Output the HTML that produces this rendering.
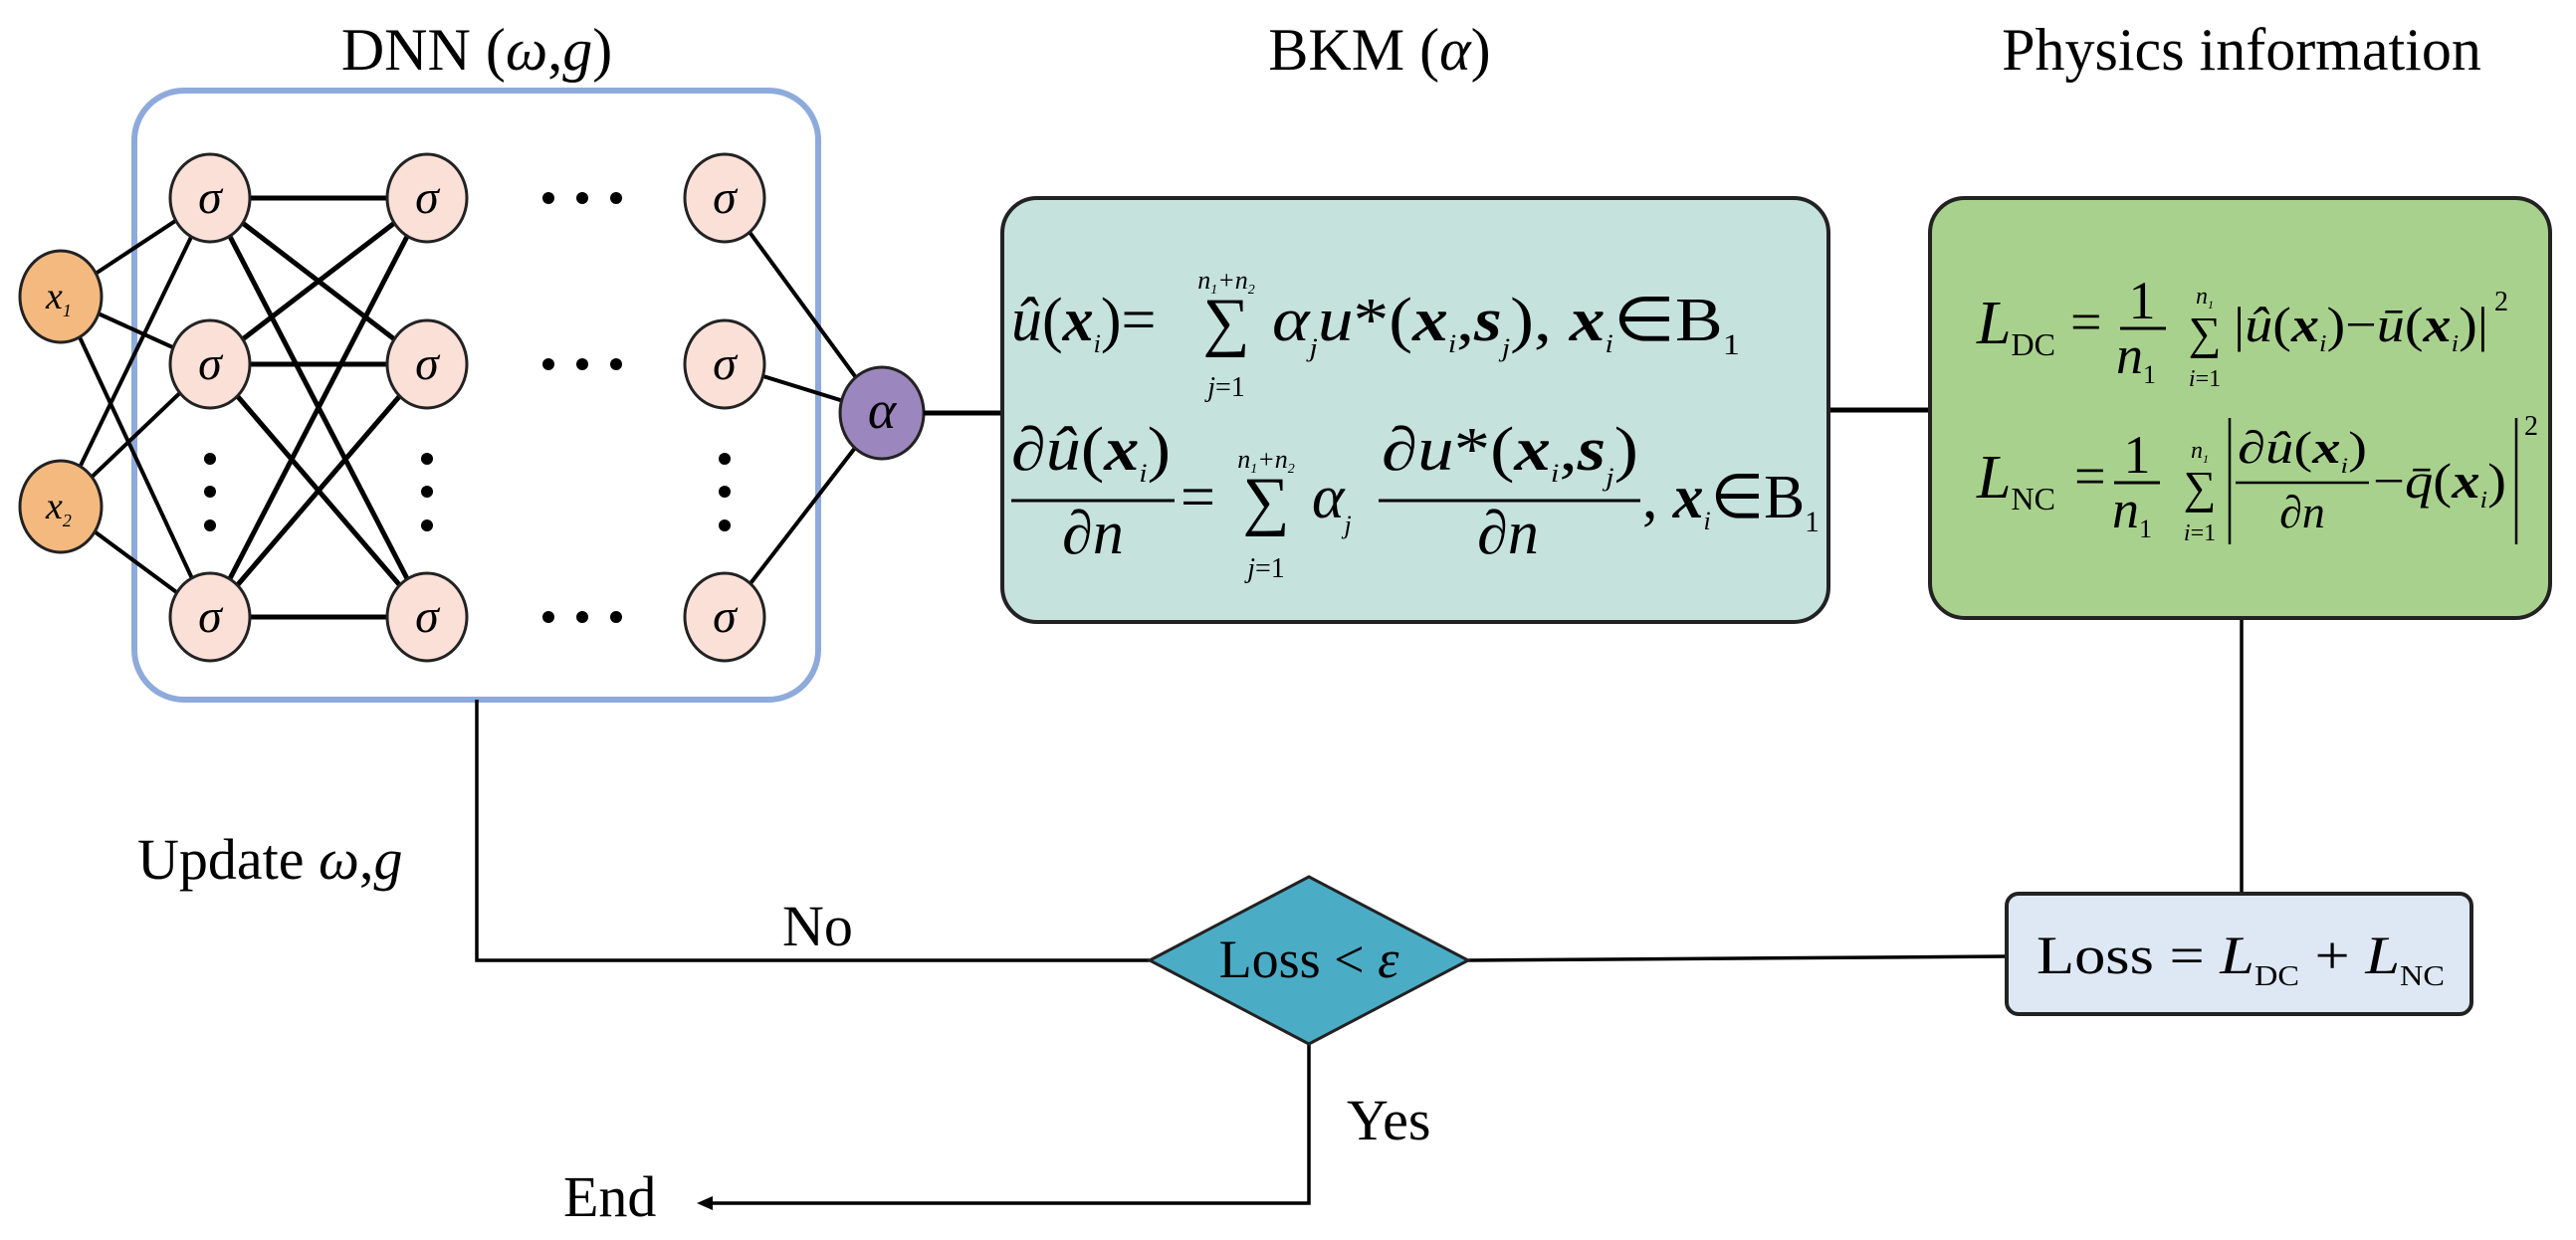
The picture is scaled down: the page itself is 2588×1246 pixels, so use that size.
<!DOCTYPE html>
<html><head><meta charset="utf-8"><style>
html,body{margin:0;padding:0;background:#fff;}
svg{display:block;}
text{font-family:"Liberation Serif",serif;fill:#000;}
</style></head><body>
<svg width="2588" height="1246" viewBox="0 0 2588 1246" xmlns="http://www.w3.org/2000/svg">
<!-- titles -->
<text x="479" y="70" font-size="60" text-anchor="middle">DNN (<tspan font-style="italic">ω</tspan>,<tspan font-style="italic">g</tspan>)</text>
<text x="1386" y="70" font-size="60" text-anchor="middle">BKM (<tspan font-style="italic">α</tspan>)</text>
<text x="2252" y="70" font-size="60" text-anchor="middle">Physics information</text>

<!-- DNN box -->
<rect x="135" y="91" width="687" height="612" rx="50" fill="#fff" stroke="#8eaadb" stroke-width="6"/>

<!-- edges -->
<g stroke="#000" stroke-width="4">
  <line x1="61" y1="298" x2="211" y2="199"/><line x1="61" y1="298" x2="211" y2="366"/><line x1="61" y1="298" x2="211" y2="620"/>
  <line x1="61" y1="509" x2="211" y2="199"/><line x1="61" y1="509" x2="211" y2="366"/><line x1="61" y1="509" x2="211" y2="620"/>
  <line x1="728" y1="199" x2="886" y2="415"/><line x1="728" y1="366" x2="886" y2="415"/><line x1="728" y1="620" x2="886" y2="415"/>
</g>
<g stroke="#000" stroke-width="5">
  <line x1="211" y1="199" x2="429" y2="199"/><line x1="211" y1="199" x2="429" y2="366"/><line x1="211" y1="199" x2="429" y2="620"/>
  <line x1="211" y1="366" x2="429" y2="199"/><line x1="211" y1="366" x2="429" y2="366"/><line x1="211" y1="366" x2="429" y2="620"/>
  <line x1="211" y1="620" x2="429" y2="199"/><line x1="211" y1="620" x2="429" y2="366"/><line x1="211" y1="620" x2="429" y2="620"/>
</g>

<!-- dots -->
<g fill="#000">
  <circle cx="551" cy="199" r="6"/><circle cx="585" cy="199" r="6"/><circle cx="619" cy="199" r="6"/>
  <circle cx="551" cy="366" r="6"/><circle cx="585" cy="366" r="6"/><circle cx="619" cy="366" r="6"/>
  <circle cx="551" cy="620" r="6"/><circle cx="585" cy="620" r="6"/><circle cx="619" cy="620" r="6"/>
  <circle cx="211" cy="461" r="6"/><circle cx="211" cy="494" r="6"/><circle cx="211" cy="528" r="6"/>
  <circle cx="429" cy="461" r="6"/><circle cx="429" cy="494" r="6"/><circle cx="429" cy="528" r="6"/>
  <circle cx="728" cy="461" r="6"/><circle cx="728" cy="494" r="6"/><circle cx="728" cy="528" r="6"/>
</g>

<!-- nodes -->
<g stroke="#222" stroke-width="3" fill="#fbe0d8">
  <ellipse cx="211" cy="199" rx="40" ry="44"/><ellipse cx="211" cy="366" rx="40" ry="44"/><ellipse cx="211" cy="620" rx="40" ry="44"/>
  <ellipse cx="429" cy="199" rx="40" ry="44"/><ellipse cx="429" cy="366" rx="40" ry="44"/><ellipse cx="429" cy="620" rx="40" ry="44"/>
  <ellipse cx="728" cy="199" rx="40" ry="44"/><ellipse cx="728" cy="366" rx="40" ry="44"/><ellipse cx="728" cy="620" rx="40" ry="44"/>
  <ellipse cx="61" cy="298" rx="41" ry="46" fill="#f4b97f"/><ellipse cx="61" cy="509" rx="41" ry="46" fill="#f4b97f"/>
  <ellipse cx="886" cy="415" rx="42" ry="46" fill="#9b86be"/>
</g>
<g font-size="48" font-style="italic" text-anchor="middle">
  <text x="211" y="214">σ</text><text x="211" y="381">σ</text><text x="211" y="635">σ</text>
  <text x="429" y="214">σ</text><text x="429" y="381">σ</text><text x="429" y="635">σ</text>
  <text x="728" y="214">σ</text><text x="728" y="381">σ</text><text x="728" y="635">σ</text>
  <text x="886" y="430" font-size="54">α</text>
</g>
<text x="46" y="310" font-size="38" font-style="italic">x<tspan font-size="18" dy="8">1</tspan></text>
<text x="46" y="521" font-size="38" font-style="italic">x<tspan font-size="18" dy="8">2</tspan></text>

<!-- connectors -->
<g stroke="#000" stroke-width="5" fill="none">
  <line x1="928" y1="415" x2="1007" y2="415"/>
  <line x1="1837" y1="412" x2="1939" y2="412"/>
</g>
<g stroke="#000" stroke-width="3.5" fill="none">
  <line x1="2252" y1="621" x2="2252" y2="898"/>
  <line x1="2016" y1="961" x2="1475" y2="965"/>
  <polyline points="1155,965 479,965 479,703"/>
  <polyline points="1315,1049 1315,1209 712,1209"/>
</g>
<polygon points="700,1209 716,1202 716,1216" fill="#000"/>

<!-- BKM box -->
<rect x="1007" y="199" width="830" height="426" rx="35" fill="#c5e2dd" stroke="#222" stroke-width="4"/>
<text x="1016" y="342" font-size="62"><tspan font-style="italic">û</tspan>(<tspan font-style="italic" font-weight="bold">x</tspan><tspan font-size="26" font-style="italic" dy="12">i</tspan><tspan dy="-12">)=</tspan></text>
<text x="1232" y="345" font-size="66" text-anchor="middle">∑</text>
<text x="1232" y="290" font-size="26" font-style="italic" text-anchor="middle">n<tspan font-size="14" dy="5">1</tspan><tspan dy="-5">+n</tspan><tspan font-size="14" dy="5">2</tspan></text>
<text x="1232" y="398" font-size="28" text-anchor="middle"><tspan font-style="italic">j</tspan>=1</text>
<text x="1278" y="342" font-size="62" textLength="470" lengthAdjust="spacingAndGlyphs"><tspan font-style="italic">α</tspan><tspan font-size="26" font-style="italic" dy="16">j</tspan><tspan font-style="italic" dy="-16">u</tspan>*(<tspan font-style="italic" font-weight="bold">x</tspan><tspan font-size="26" font-style="italic" dy="12">i</tspan><tspan dy="-12">,</tspan><tspan font-style="italic" font-weight="bold">s</tspan><tspan font-size="26" font-style="italic" dy="16">j</tspan><tspan dy="-16">), </tspan><tspan font-style="italic" font-weight="bold">x</tspan><tspan font-size="26" font-style="italic" dy="12">i</tspan><tspan dy="-12">∈B</tspan><tspan font-size="30" dy="14">1</tspan></text>
<text x="1016" y="472" font-size="62" textLength="160" lengthAdjust="spacingAndGlyphs">∂<tspan font-style="italic">û</tspan>(<tspan font-style="italic" font-weight="bold">x</tspan><tspan font-size="26" font-style="italic" dy="12">i</tspan><tspan dy="-12">)</tspan></text>
<line x1="1016" y1="503" x2="1180" y2="503" stroke="#000" stroke-width="3"/>
<text x="1098" y="556" font-size="62" text-anchor="middle">∂<tspan font-style="italic">n</tspan></text>
<text x="1186" y="520" font-size="62">=</text>
<text x="1272" y="525" font-size="66" text-anchor="middle">∑</text>
<text x="1272" y="470" font-size="26" font-style="italic" text-anchor="middle">n<tspan font-size="14" dy="5">1</tspan><tspan dy="-5">+n</tspan><tspan font-size="14" dy="5">2</tspan></text>
<text x="1272" y="580" font-size="28" text-anchor="middle"><tspan font-style="italic">j</tspan>=1</text>
<text x="1318" y="520" font-size="62" font-style="italic">α<tspan font-size="26" dy="16">j</tspan></text>
<text x="1388" y="472" font-size="62" textLength="258" lengthAdjust="spacingAndGlyphs">∂<tspan font-style="italic">u</tspan>*(<tspan font-style="italic" font-weight="bold">x</tspan><tspan font-size="26" font-style="italic" dy="12">i</tspan><tspan dy="-12">,</tspan><tspan font-style="italic" font-weight="bold">s</tspan><tspan font-size="26" font-style="italic" dy="16">j</tspan><tspan dy="-16">)</tspan></text>
<line x1="1385" y1="503" x2="1648" y2="503" stroke="#000" stroke-width="3"/>
<text x="1515" y="556" font-size="62" text-anchor="middle">∂<tspan font-style="italic">n</tspan></text>
<text x="1650" y="520" font-size="62" textLength="178" lengthAdjust="spacingAndGlyphs">, <tspan font-style="italic" font-weight="bold">x</tspan><tspan font-size="26" font-style="italic" dy="12">i</tspan><tspan dy="-12">∈B</tspan><tspan font-size="30" dy="14">1</tspan></text>

<!-- Physics box -->
<rect x="1939" y="199" width="623" height="422" rx="35" fill="#a9d18e" stroke="#222" stroke-width="4"/>
<text x="1986" y="345" font-size="62" font-style="italic">L<tspan font-style="normal" font-size="32" dy="12">DC</tspan></text>
<text x="2080" y="342" font-size="56">=</text>
<text x="2152" y="320" font-size="54" text-anchor="middle">1</text>
<line x1="2130" y1="330" x2="2176" y2="330" stroke="#000" stroke-width="3"/>
<text x="2146" y="375" font-size="54" font-style="italic" text-anchor="middle">n<tspan font-style="normal" font-size="26" dy="10">1</tspan></text>
<text x="2215" y="350" font-size="46" text-anchor="middle">∑</text>
<text x="2215" y="305" font-size="24" font-style="italic" text-anchor="middle">n<tspan font-size="12" dy="5">1</tspan></text>
<text x="2215" y="388" font-size="24" text-anchor="middle"><tspan font-style="italic">i</tspan>=1</text>
<text x="2244" y="343" font-size="50" textLength="256" lengthAdjust="spacingAndGlyphs">|<tspan font-style="italic">û</tspan>(<tspan font-style="italic" font-weight="bold">x</tspan><tspan font-size="24" font-style="italic" dy="10">i</tspan><tspan dy="-10">)−</tspan><tspan font-style="italic">ū</tspan>(<tspan font-style="italic" font-weight="bold">x</tspan><tspan font-size="24" font-style="italic" dy="10">i</tspan><tspan dy="-10">)|</tspan></text>
<text x="2506" y="312" font-size="28">2</text>

<text x="1986" y="500" font-size="62" font-style="italic">L<tspan font-style="normal" font-size="32" dy="12">NC</tspan></text>
<text x="2084" y="497" font-size="56">=</text>
<text x="2147" y="475" font-size="54" text-anchor="middle">1</text>
<line x1="2124" y1="485" x2="2170" y2="485" stroke="#000" stroke-width="3"/>
<text x="2142" y="530" font-size="54" font-style="italic" text-anchor="middle">n<tspan font-style="normal" font-size="26" dy="10">1</tspan></text>
<text x="2210" y="505" font-size="46" text-anchor="middle">∑</text>
<text x="2210" y="460" font-size="24" font-style="italic" text-anchor="middle">n<tspan font-size="12" dy="5">1</tspan></text>
<text x="2210" y="543" font-size="24" text-anchor="middle"><tspan font-style="italic">i</tspan>=1</text>
<line x1="2240" y1="420" x2="2240" y2="547" stroke="#000" stroke-width="2.5"/>
<text x="2248" y="465" font-size="46" textLength="130" lengthAdjust="spacingAndGlyphs">∂<tspan font-style="italic">û</tspan>(<tspan font-style="italic" font-weight="bold">x</tspan><tspan font-size="22" font-style="italic" dy="10">i</tspan><tspan dy="-10">)</tspan></text>
<line x1="2246" y1="485" x2="2380" y2="485" stroke="#000" stroke-width="2.5"/>
<text x="2313" y="530" font-size="46" text-anchor="middle">∂<tspan font-style="italic">n</tspan></text>
<text x="2384" y="500" font-size="50" textLength="134" lengthAdjust="spacingAndGlyphs">−<tspan font-style="italic">q̄</tspan>(<tspan font-style="italic" font-weight="bold">x</tspan><tspan font-size="24" font-style="italic" dy="10">i</tspan><tspan dy="-10">)</tspan></text>
<line x1="2528" y1="420" x2="2528" y2="547" stroke="#000" stroke-width="2.5"/>
<text x="2536" y="437" font-size="28">2</text>

<!-- Loss box -->
<rect x="2016" y="898" width="467" height="121" rx="12" fill="#dde8f4" stroke="#222" stroke-width="4"/>
<text x="2046" y="978" font-size="54" textLength="410" lengthAdjust="spacingAndGlyphs">Loss = <tspan font-style="italic">L</tspan><tspan font-size="28" dy="12">DC</tspan><tspan dy="-12"> + </tspan><tspan font-style="italic">L</tspan><tspan font-size="28" dy="12">NC</tspan></text>

<!-- Diamond -->
<polygon points="1315,881 1475,965 1315,1049 1155,965" fill="#4bacc6" stroke="#222" stroke-width="3"/>
<text x="1315" y="982" font-size="54" text-anchor="middle">Loss &lt; <tspan font-style="italic">ε</tspan></text>

<!-- labels -->
<text x="138" y="883" font-size="58">Update <tspan font-style="italic">ω</tspan>,<tspan font-style="italic">g</tspan></text>
<text x="786" y="950" font-size="58">No</text>
<text x="1353" y="1145" font-size="58">Yes</text>
<text x="566" y="1222" font-size="58">End</text>
</svg>
</body></html>
